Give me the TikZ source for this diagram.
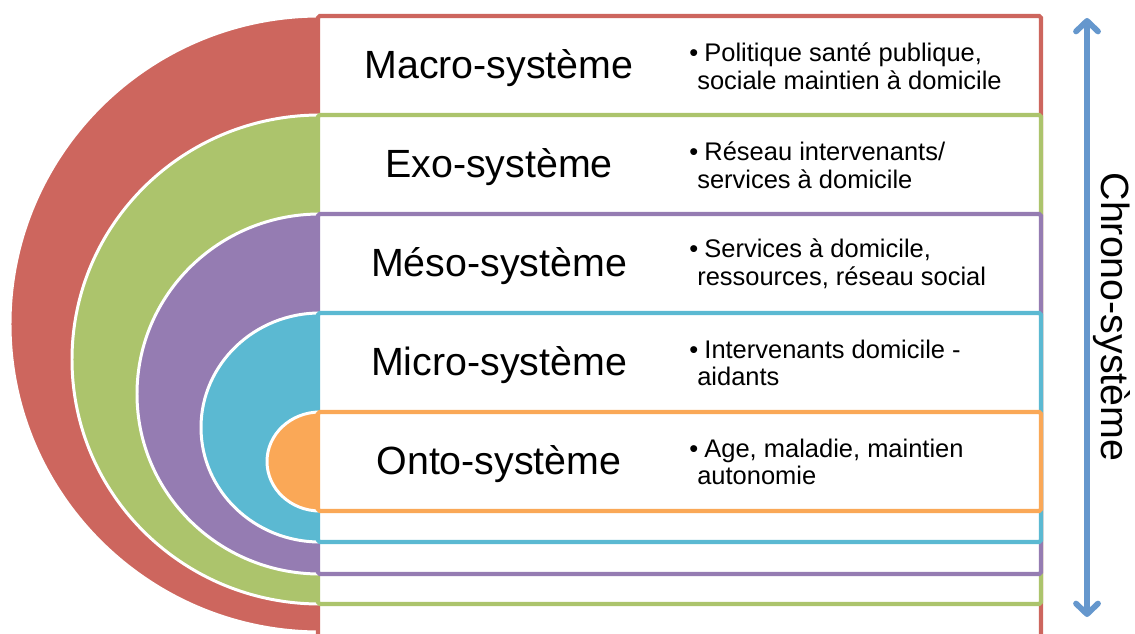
\documentclass[tikz,border=0pt]{standalone}
\usepackage{fontspec}
\setmainfont{Liberation Sans}
\usetikzlibrary{arrows.meta}
\definecolor{macrorouge}{RGB}{205,102,94}
\definecolor{exovert}{RGB}{172,196,108}
\definecolor{mesoviolet}{RGB}{149,124,178}
\definecolor{microbleu}{RGB}{91,185,210}
\definecolor{ontoorange}{RGB}{250,168,87}
\definecolor{chronobleu}{RGB}{101,151,205}
\newcommand{\demidisque}[4]% flat side x, center y, xdim, ydim
{(#1,#2+#4) arc (90:270:#3 and #4) -- cycle
}

\begin{document}
\begin{tikzpicture}[x=0.02cm, y=0.02cm,
  cadre/.style={line width=2.3pt, rounded corners=1pt, fill=white},
  disque/.style={draw=white, line width=1.7pt},
  titre/.style={font=\fontsize{22.4}{26}\selectfont},
  puce/.style={font=\fontsize{14.5}{15.8}\selectfont, align=left, anchor=west, inner sep=0pt},
  fleche/.style={line width=3.3pt, chronobleu,
    {Straight Barb[length=6pt,width=12.5pt,round]}-{Straight Barb[length=6pt,width=12.5pt,round]}}]
  \useasboundingbox (0,0) rectangle (1135,633);
  % couches, de l'exterieur vers l'interieur
  \filldraw[disque, fill=macrorouge] \demidisque{320}{309}{310}{308};
  \draw[cadre, draw=macrorouge] (318,617) rectangle (1041,-10);
  \filldraw[disque, fill=exovert] \demidisque{320}{273.5}{248}{244.5};
  \draw[cadre, draw=exovert] (318,518) rectangle (1041,29);
  \filldraw[disque, fill=mesoviolet] \demidisque{320}{239}{183}{180};
  \draw[cadre, draw=mesoviolet] (318,419) rectangle (1041,59);
  \filldraw[disque, fill=microbleu] \demidisque{320}{205.5}{119}{114.5};
  \draw[cadre, draw=microbleu] (318,320) rectangle (1041,91);
  \filldraw[disque, fill=ontoorange] \demidisque{320}{171.5}{53}{49.5};
  \draw[cadre, draw=ontoorange] (318,221) rectangle (1041,122);
  % titres
  \node[titre] (macro) at (499,564.5) {Macro-système};
  \node[titre] (exo) at (499,465.5) {Exo-système};
  \node[titre] (meso) at (499,366.5) {Méso-système};
  \node[titre] (micro) at (499,267.5) {Micro-système};
  \node[titre] (onto) at (499,168.5) {Onto-système};
  % descriptions
  \node[puce] (macrotxt) at (689,567) {\textbullet\hspace{3.5pt}Politique santé publique,\\\hspace{4.5pt}sociale maintien à domicile};
  \node[puce] (exotxt) at (689,468) {\textbullet\hspace{3.5pt}Réseau intervenants/\\\hspace{4.5pt}services à domicile};
  \node[puce] (mesotxt) at (689,369) {\textbullet\hspace{3.5pt}Services à domicile,\\\hspace{4.5pt}ressources, réseau social};
  \node[puce] (microtxt) at (689,270) {\textbullet\hspace{3.5pt}Intervenants domicile -\\\hspace{4.5pt}aidants};
  \node[puce] (ontotxt) at (689,171) {\textbullet\hspace{3.5pt}Age, maladie, maintien\\\hspace{4.5pt}autonomie};
  % chrono-systeme
  \coordinate (chronohaut) at (1087,615);
  \coordinate (chronobas) at (1087,16);
  \draw[fleche] (chronobas) -- (chronohaut);
  \node[titre, rotate=-90] (chrono) at (1112,316) {Chrono-système};
\end{tikzpicture}
\end{document}
